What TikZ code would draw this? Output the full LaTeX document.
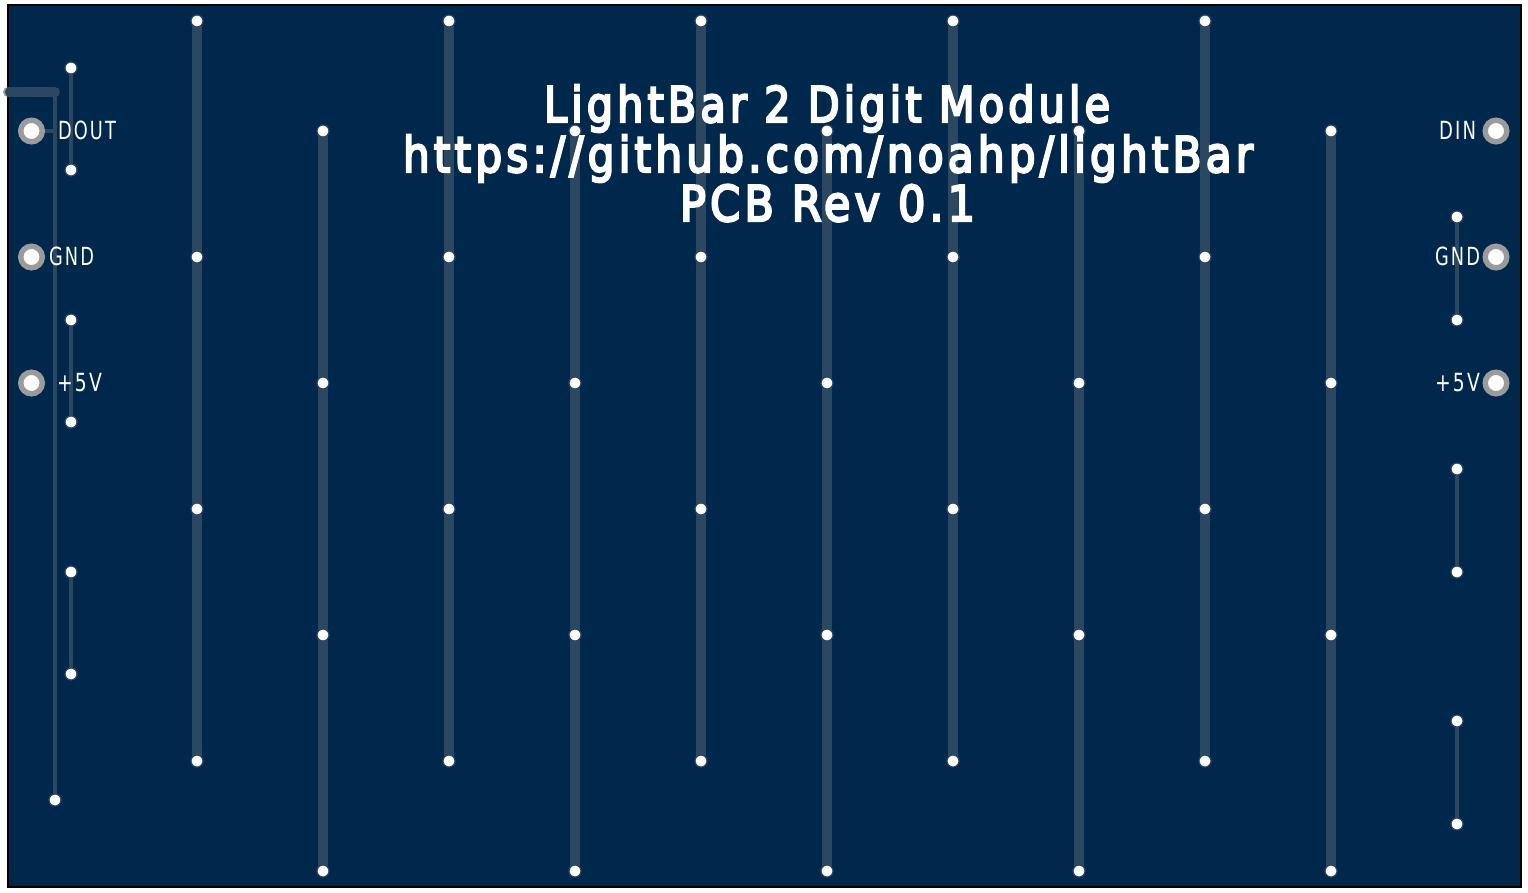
\documentclass[tikz,border=0pt]{standalone}
\usepackage{fontspec}
\setmainfont{DejaVu Sans}
\newfontfamily\titlefont[FakeBold=5,LetterSpace=10]{DejaVu Sans}
\newfontfamily\labelfont[LetterSpace=12]{DejaVu Sans}
\usetikzlibrary{backgrounds}
\definecolor{board}{HTML}{00274C}
\definecolor{trk}{HTML}{2C4760}
\definecolor{padring}{HTML}{9B9B9B}
\newcommand\fitx[2]{\setbox0\hbox{#2}\pgfmathsetmacro\fitr{#1/\the\wd0}\scalebox{\fitr}[1]{\box0}}
\tikzset{
  x=1pt,y=-1pt,
  via/.style={circle,fill=white,draw=trk,line width=1.2pt,minimum size=12pt,inner sep=0pt,outer sep=0pt},
  pad/.style={circle,fill=white,draw=padring,line width=5.4pt,minimum size=21.6pt,inner sep=0pt,outer sep=0pt},
  widetrack/.style={draw=trk,line width=10pt,line cap=butt},
  thintrack/.style={draw=trk,line width=4pt,line cap=butt},
  title/.style={text=white,inner sep=0pt,outer sep=0pt,anchor=base west,font=\titlefont\fontsize{49}{49}\selectfont},
  pinlabel/.style={text=white,inner sep=0pt,outer sep=0pt,anchor=base west,font=\labelfont\fontsize{25}{25}\selectfont},
}
\begin{document}
\begin{tikzpicture}
\useasboundingbox (0,0) rectangle (1528,892);
% odd columns
\foreach \n/\x in {a/197,b/449,c/701,d/953,e/1205}{
  \node[via] (\n1) at (\x,21) {};
  \node[via] (\n2) at (\x,257) {};
  \node[via] (\n3) at (\x,509) {};
  \node[via] (\n4) at (\x,761) {};
}
% even columns
\foreach \n/\x in {f/323,g/575,h/827,i/1079,j/1331}{
  \node[via] (\n1) at (\x,131) {};
  \node[via] (\n2) at (\x,383) {};
  \node[via] (\n3) at (\x,635) {};
  \node[via] (\n4) at (\x,871) {};
}
% short tracks
\node[via] (l1) at (71,68) {};
\node[via] (l2) at (71,170) {};
\node[via] (l3) at (71,320) {};
\node[via] (l4) at (71,422) {};
\node[via] (l5) at (71,572) {};
\node[via] (l6) at (71,674) {};
\node[via] (r1) at (1457,217) {};
\node[via] (r2) at (1457,320) {};
\node[via] (r3) at (1457,469) {};
\node[via] (r4) at (1457,572) {};
\node[via] (r5) at (1457,721) {};
\node[via] (r6) at (1457,824) {};
\node[via] (dv) at (55,800) {};
% pads
\node[pad] (p1) at (31.5,131) {};
\node[pad] (p2) at (31.5,257) {};
\node[pad] (p3) at (31.5,383) {};
\node[pad] (q1) at (1496,131) {};
\node[pad] (q2) at (1496,257) {};
\node[pad] (q3) at (1496,383) {};
\coordinate (cr) at (55,92);
\coordinate (cp) at (55,131);
\begin{scope}[on background layer]
  \fill[board] (8,5) rectangle (1520.5,887);
  \foreach \n in {a,b,c,d,e,f,g,h,i,j}{
    \draw[widetrack] (\n1.center) -- (\n4.center);
  }
  \foreach \s/\t in {l1/l2,l3/l4,l5/l6,r1/r2,r3/r4,r5/r6}{
    \draw[thintrack] (\s.center) -- (\t.center);
  }
  \draw[thintrack] (cr) -- (dv.center);
  \draw[thintrack] (p1.center) -- (cp);
\end{scope}
% board outline
\draw[black,line width=2pt] (8,5) rectangle (1520.5,887);
% stub track crossing outline
\fill[padring] (8,87) -- (8,97) arc[start angle=270,end angle=90,radius=5pt] -- cycle;
\draw[widetrack,line cap=round] (10,92) -- (cr);
\fill[trk] (7,87) rectangle (12,97);
% title
\node[title] (t1) at (544,122) {\fitx{566}{LightBar 2 Digit Module}};
\node[title] (t2) at (403,172) {\fitx{850}{https://github.com/noahp/lightBar}};
\node[title] (t3) at (680,221) {\fitx{295}{PCB Rev 0.1}};
% pin labels
\node[pinlabel] (n1) at (58,139) {\fitx{58}{DOUT}};
\node[pinlabel] (n2) at (49,265) {\fitx{45}{GND}};
\node[pinlabel] (n3) at (57,391) {\fitx{45}{+5V}};
\node[pinlabel] (n4) at (1439,139) {\fitx{37}{DIN}};
\node[pinlabel] (n5) at (1435,265) {\fitx{45}{GND}};
\node[pinlabel] (n6) at (1435,391) {\fitx{45}{+5V}};
\end{tikzpicture}
\end{document}
